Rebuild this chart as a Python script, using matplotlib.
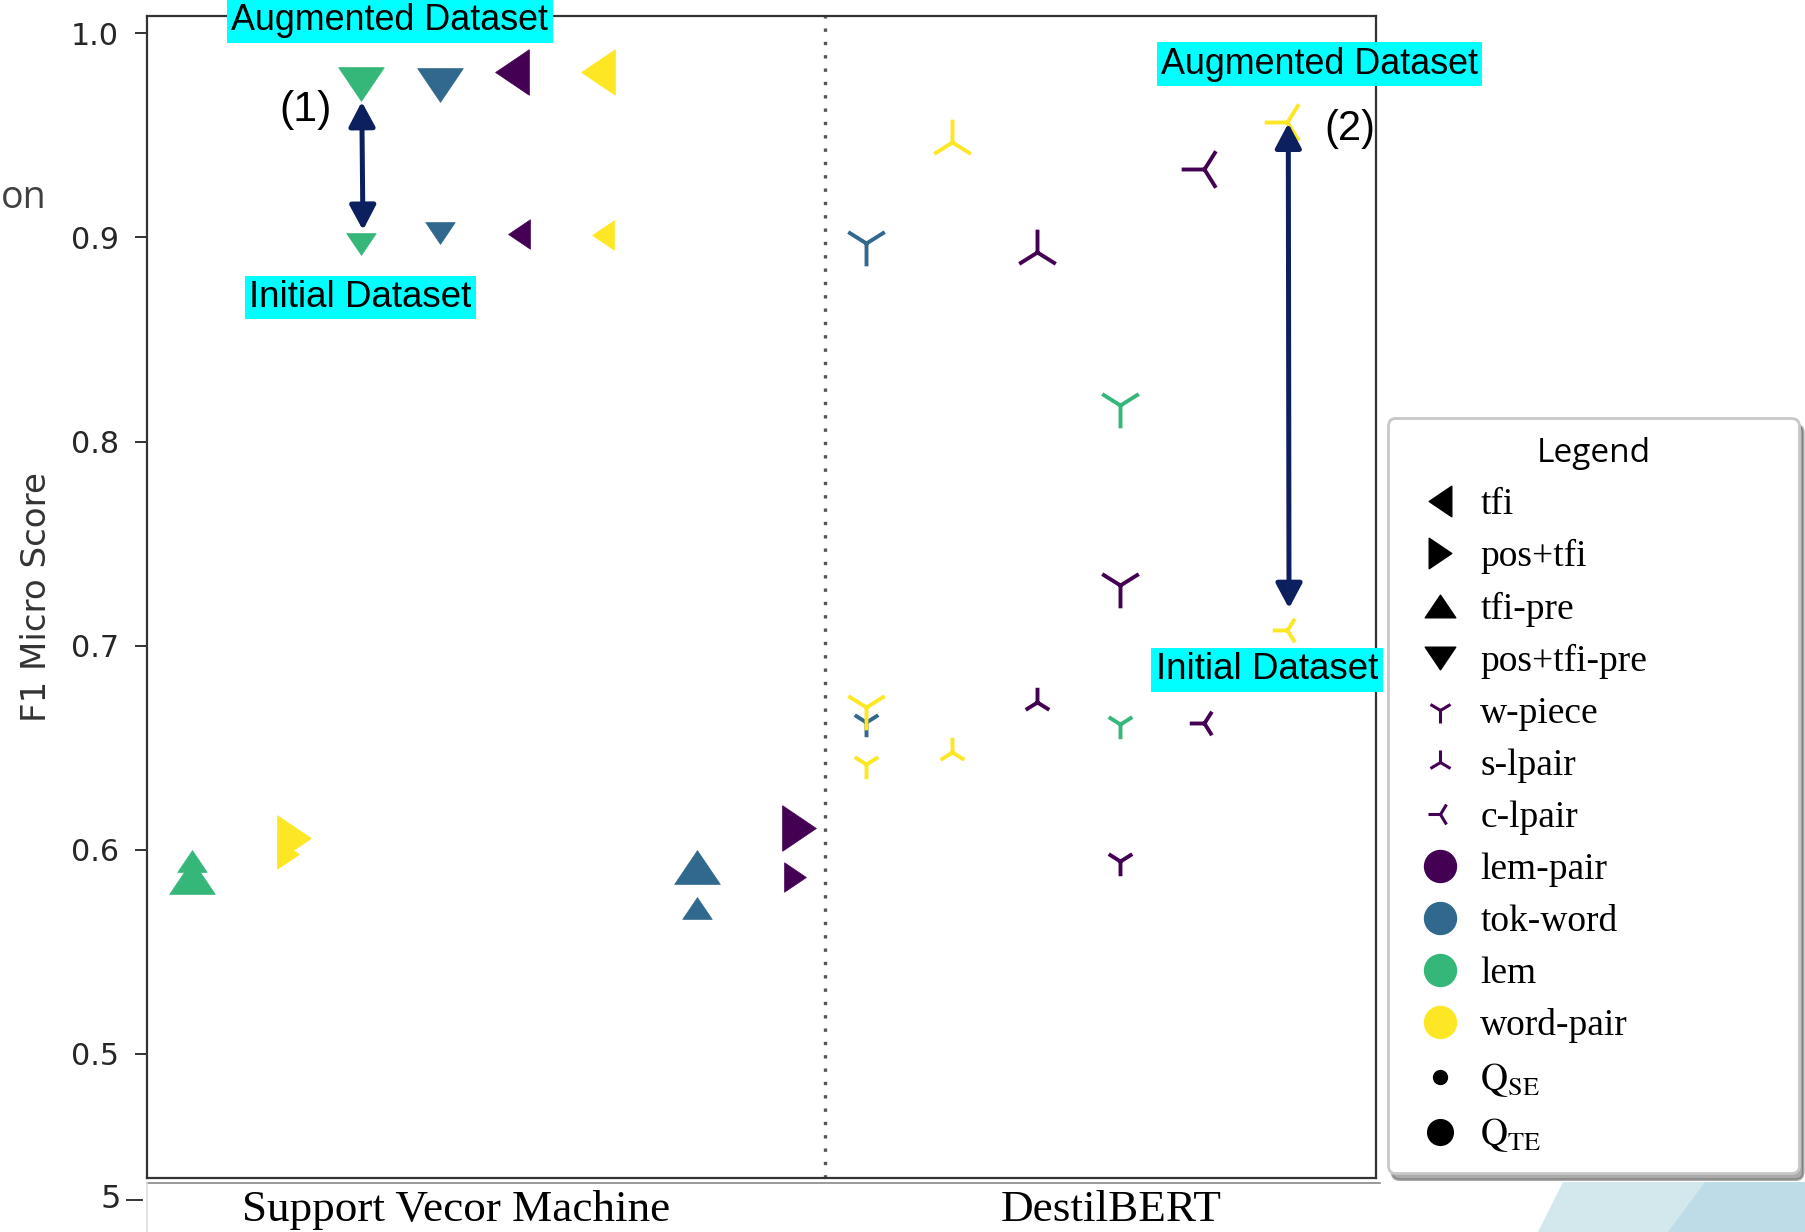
import numpy as np
import matplotlib.pyplot as plt
from matplotlib.lines import Line2D
from matplotlib.patches import Polygon
from matplotlib.path import Path
from matplotlib.font_manager import FontProperties

plt.rcParams['mathtext.fontset'] = 'stix'

W, H = 1806, 1232

#token types -> viridis colours
tok_names = ['lem-pair', 'tok-word', 'lem', 'word-pair']
tok_colors = ['#440154', '#31688e', '#35b779', '#fde725']

feat_names = ['tfi', 'pos+tfi', 'tfi-pre', 'pos+tfi-pre', 'w-piece', 's-lpair', 'c-lpair']

#one entry per configuration (SVM first, then DistilBERT)
#_se = initial dataset (Q_SE), _te = augmented dataset (Q_TE)
feature = ['tfi-pre', 'pos+tfi', 'pos+tfi-pre', 'pos+tfi-pre', 'tfi', 'tfi', 'tfi-pre', 'pos+tfi',
           'w-piece', 'w-piece', 's-lpair', 's-lpair', 'w-piece', 'w-piece', 'c-lpair', 'c-lpair']
token = ['lem', 'word-pair', 'lem', 'tok-word', 'lem-pair', 'word-pair', 'tok-word', 'lem-pair',
         'tok-word', 'word-pair', 'word-pair', 'lem-pair', 'lem', 'lem-pair', 'lem-pair', 'word-pair']
x_se = [0.362, 1.144, 1.735, 2.385, 3.020, 3.708, 4.477, 5.271,
        5.846, 5.846, 6.545, 7.243, 7.916, 7.916, 8.600, 9.276]
x_te = [0.362, 1.193, 1.735, 2.385, 2.971, 3.665, 4.477, 5.303,
        5.846, 5.846, 6.545, 7.243, 7.916, 7.916, 8.600, 9.276]
f1_se = [0.5945, 0.5981, 0.8970, 0.9023, 0.9016, 0.9013, 0.5715, 0.5866,
         0.6626, 0.6422, 0.6479, 0.6724, 0.6615, 0.5945, 0.6623, 0.7079]
f1_te = [0.5868, 0.6056, 0.9750, 0.9745, 0.9812, 0.9812, 0.5915, 0.6107,
         0.8974, 0.6700, 0.9469, 0.8930, 0.8180, 0.7296, 0.9334, 0.9567]

models = ['Support Vecor Machine', 'DestilBERT']
split_x = 5.512

#flat triangles
h = 0.74
def tri(pts):
    return Path(pts + [pts[0]], closed=True)

feat_marker = {
    'tfi': tri([(-h, 0), (h, 1), (h, -1)]),
    'pos+tfi': tri([(h, 0), (-h, 1), (-h, -1)]),
    'tfi-pre': tri([(0, h), (-1, -h), (1, -h)]),
    'pos+tfi-pre': tri([(0, -h), (-1, h), (1, h)]),
    'w-piece': '1',
    's-lpair': '2',
    'c-lpair': '3',
}

def fx(px):
    return px / W

def fy(py):
    return 1 - py / H

fig = plt.figure(figsize=(W / 100, H / 100), dpi=100)
ax = fig.add_axes([fx(147.5), fy(1178), (1376 - 147.5) / W, (1178 - 16) / H])


def draw(xs, ys, size):
    for f, t, x, y in zip(feature, token, xs, ys):
        m = feat_marker[f]
        c = tok_colors[tok_names.index(t)]
        if isinstance(m, str):
            ax.scatter(x, y, marker=m, s=size, color=c, linewidths=2.8, zorder=3)
        else:
            ax.scatter(x, y, marker=m, s=size, color=c, linewidths=0.5, zorder=3)


draw(x_se, f1_se, 450)
draw(x_te, f1_te, 1080)

ax.axvline(split_x, color='#555555', lw=2.4, linestyle=(0, (1, 3)), zorder=1)

ax.set_xlim(0, 10)
ax.set_ylim(0.4392, 1.0085)
ax.set_xticks([])
ax.set_yticks([0.5, 0.6, 0.7, 0.8, 0.9, 1.0])
ax.tick_params(axis='y', labelsize=21.7, length=8.6, width=1.4, color='#333333',
               labelcolor='#262626', pad=12)
for s in ax.spines.values():
    s.set_color('#333333')
    s.set_linewidth(1.6)
ax.set_ylabel('F1 Micro Score', fontsize=24.5, color='#333333')
ax.yaxis.set_label_coords((53 - 147.5) / 1228.5, 0.5)

#arrows between initial and augmented runs
arrow = dict(arrowstyle='<|-|>,head_length=1.5,head_width=0.8', color='#0c1f5e',
             lw=3.6, shrinkA=0, shrinkB=0, mutation_scale=10)
ax.annotate('', xy=(1.744, 0.9665), xytext=(1.754, 0.9036), arrowprops=arrow, zorder=4)
ax.annotate('', xy=(9.286, 0.9559), xytext=(9.292, 0.7183), arrowprops=arrow, zorder=4)

cyan = dict(boxstyle='square,pad=0.12', fc='#00ffff', ec='none')
sans = 'Liberation Sans'
fig.text(fx(390), fy(21), 'Augmented Dataset', family=sans, size=25.8, ha='center', va='center', bbox=cyan)
fig.text(fx(360.5), fy(297.5), 'Initial Dataset', family=sans, size=26.5, ha='center', va='center', bbox=cyan)
fig.text(fx(1319.5), fy(64), 'Augmented Dataset', family=sans, size=25.8, ha='center', va='center', bbox=cyan)
fig.text(fx(1267), fy(670), 'Initial Dataset', family=sans, size=26.5, ha='center', va='center', bbox=cyan)
fig.text(fx(306), fy(110.5), '(1)', family=sans, size=31, ha='center', va='center')
fig.text(fx(1349.5), fy(129), '(2)', family=sans, size=30, ha='center', va='center')

#model names under the axes
fig.text(fx(456), fy(1221), models[0], family='Liberation Serif', size=32.5, ha='center', va='baseline')
fig.text(fx(1111.5), fy(1221), models[1], family='Liberation Serif', size=32.5, ha='center', va='baseline')
fig.text(fx(121), fy(1200), '5', size=23, color='#262626', ha='right', va='center')
fig.add_artist(Line2D([fx(127), fx(142)], [fy(1200), fy(1200)], color='#333333', lw=1.4))
fig.add_artist(Line2D([fx(147.5), fx(1380)], [fy(1183), fy(1183)], color='#888888', lw=1.2))
fig.add_artist(Line2D([fx(147.5), fx(147.5)], [fy(1183), fy(1232)], color='#dddddd', lw=1.2))
fig.text(fx(1), fy(198), 'on', family='Open Sans', size=27, color='#404040', ha='left', va='center')

#background shapes bottom right
for pts, col in [([(1563, 1182), (1806, 1182), (1806, 1232), (1538, 1232)], '#d2e8ed'),
                 ([(1705, 1182), (1806, 1182), (1806, 1232), (1668, 1232)], '#bedce7')]:
    fig.add_artist(Polygon([(fx(a), fy(b)) for a, b in pts], closed=True, fc=col, ec='none',
                           transform=fig.transFigure))

#legend
handles = []
for f in feat_names:
    m = feat_marker[f]
    if isinstance(m, str):
        handles.append(Line2D([], [], ls='none', marker=m, color=tok_colors[0], ms=18, mew=2.2))
    else:
        handles.append(Line2D([], [], ls='none', marker=m, color='black', ms=22))
for c in tok_colors:
    handles.append(Line2D([], [], ls='none', marker='o', color=c, ms=23))
handles.append(Line2D([], [], ls='none', marker='o', color='black', ms=10))
handles.append(Line2D([], [], ls='none', marker='o', color='black', ms=18.5))
labels = feat_names + tok_names + [r'$\mathrm{Q_{SE}}$', r'$\mathrm{Q_{TE}}$']

leg = fig.legend(handles, labels, loc='upper left',
                 bbox_to_anchor=(fx(1388), fy(418), (1799 - 1388) / W, 0.0),
                 mode='expand', borderaxespad=0, title='Legend',
                 prop=FontProperties(family='Liberation Serif', size=27),
                 title_fontproperties=FontProperties(family='Open Sans', size=24),
                 fancybox=True, shadow={'ox': 3, 'oy': -5, 'color': '0.35', 'alpha': 0.5},
                 framealpha=1, edgecolor='#c8c8c8', borderpad=0.5, labelspacing=0.465,
                 handlelength=1.76, handletextpad=0.2)
leg.get_frame().set_linewidth(2)
fig.add_artist(Line2D([fx(1478), fx(1478)], [fy(478), fy(1152)], color='#cccccc', lw=1.5))

plt.savefig('out.png', dpi=100)
